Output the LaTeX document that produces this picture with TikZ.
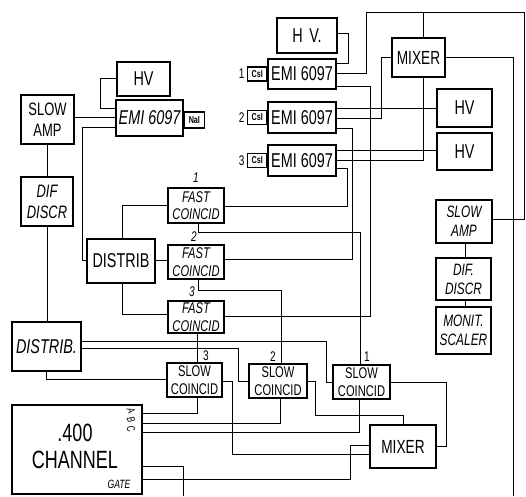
\documentclass[tikz,border=0pt]{standalone}
\usepackage{fontspec}
\setmainfont{Liberation Sans}[FakeStretch=0.72]
\begin{document}
\begin{tikzpicture}[x=1pt,y=-1pt,
  box/.style={draw, line width=1.6pt, inner sep=0pt, align=center, fill=white},
  sbox/.style={draw, line width=1.1pt, inner sep=0pt, align=center, fill=white,
     font=\bfseries\fontsize{10}{10}\selectfont},
  wire/.style={line width=0.9pt, line join=miter},
  lab/.style={inner sep=0pt, font=\itshape\fontsize{14}{14}\selectfont},
  num/.style={inner sep=0pt, font=\fontsize{14}{14}\selectfont},
  big/.style={font=\fontsize{20}{20}\selectfont},
  two/.style={font=\fontsize{18}{21}\selectfont},
  coin/.style={font=\itshape\fontsize{15.5}{17.5}\selectfont},
  scoin/.style={font=\fontsize{15.5}{17.5}\selectfont},
  rit/.style={font=\itshape\fontsize{16.5}{19}\selectfont}]
\useasboundingbox (0,0) rectangle (526,496);
% ---- left group
\node[box, big, minimum width=53pt, minimum height=34pt] (hvL) at (143.5,79) {HV};
\node[box, big, minimum width=67pt, minimum height=36pt] (emiL) at (149.5,118) {\itshape EMI 6097};
\node[sbox, minimum width=20pt, minimum height=16pt, anchor=west] (nai) at (emiL.east |- 0,120) {NaI};
\node[box, two, minimum width=53pt, minimum height=49pt] (sampL) at (47.5,119.5) {SLOW\\AMP};
\node[box, two, minimum width=52pt, minimum height=49pt] (ddL) at (47,201.5) {\itshape DIF\\\itshape DISCR};
\node[box, big, minimum width=68pt, minimum height=44pt] (distM) at (121,261) {DISTRIB};
\node[box, big, minimum width=69pt, minimum height=49pt] (distL) at (46.5,346.5) {\itshape DISTRIB.};
% ---- fast coincidences
\node[box, coin, minimum width=56pt, minimum height=35pt] (fc1) at (196,205.5) {FAST\\COINCID};
\node[box, coin, minimum width=56pt, minimum height=34pt] (fc2) at (196,262) {FAST\\COINCID};
\node[box, coin, minimum width=56pt, minimum height=32pt] (fc3) at (196,317) {FAST\\COINCID};
\node[lab] (l1) at (196,178) {1};
\node[lab] (l2) at (194,237) {2};
\node[lab] (l3) at (192,292) {3};
% ---- slow coincidences
\node[box, scoin, minimum width=55pt, minimum height=34pt] (sc3) at (194.5,380) {SLOW\\COINCID};
\node[box, scoin, minimum width=58pt, minimum height=34pt] (sc2) at (278,381) {SLOW\\COINCID};
\node[box, scoin, minimum width=57pt, minimum height=34pt] (sc1) at (361.5,382) {SLOW\\COINCID};
\node[num] (m3) at (206,356) {3};
\node[num] (m2) at (273,357) {2};
\node[num] (m1) at (367,357) {1};
% ---- 400 channel + mixer
\node[box, minimum width=130pt, minimum height=89pt] (ch) at (77,449.5) {};
\node[inner sep=0pt, align=center, font=\fontsize{25}{27}\selectfont] (chT) at (75,446) {.400\\CHANNEL};
\node[inner sep=0pt, font=\itshape\fontsize{12}{12}\selectfont] (gate) at (119,484) {GATE};
\node[inner sep=0pt, rotate=-70, font=\itshape\fontsize{11}{11}\selectfont] (la) at (131,411) {A};
\node[inner sep=0pt, rotate=-70, font=\itshape\fontsize{11}{11}\selectfont] (lb) at (131,420) {B};
\node[inner sep=0pt, rotate=-70, font=\itshape\fontsize{11}{11}\selectfont] (lc) at (131,429) {C};
\node[box, font=\fontsize{19}{19}\selectfont, minimum width=66pt, minimum height=43pt] (mixB) at (403,446.5) {MIXER};
% ---- top group
\node[box, big, minimum width=60pt, minimum height=35pt] (hvT) at (307,35.5) {H\,\,V.};
\node[box, big, minimum width=68pt, minimum height=30pt] (emi1) at (302,74) {EMI 6097};
\node[box, big, minimum width=68pt, minimum height=31pt] (emi2) at (302,117.5) {EMI 6097};
\node[box, big, minimum width=68pt, minimum height=31pt] (emi3) at (302,160.5) {EMI 6097};
\node[sbox, minimum width=19pt, minimum height=14pt, anchor=east] (cs1) at (emi1.west) {CsI};
\node[sbox, minimum width=19pt, minimum height=14pt, anchor=east] (cs2) at (emi2.west) {CsI};
\node[sbox, minimum width=19pt, minimum height=14pt, anchor=east] (cs3) at (emi3.west) {CsI};
\node[num, anchor=east] (n1) at (cs1.west) {1\,};
\node[num, anchor=east] (n2) at (cs2.west) {2\,};
\node[num, anchor=east] (n3) at (cs3.west) {3\,};
\node[box, font=\fontsize{19}{19}\selectfont, minimum width=53pt, minimum height=39pt] (mixT) at (418.5,57.5) {MIXER};
\node[box, big, minimum width=55pt, minimum height=38pt] (hv2) at (464.5,108) {HV};
\node[box, big, minimum width=55pt, minimum height=37pt] (hv3) at (464.5,151.5) {HV};
\node[box, rit, minimum width=56pt, minimum height=43pt] (sampR) at (464,221.5) {SLOW\\AMP};
\node[box, rit, minimum width=55pt, minimum height=42pt] (ddR) at (463.5,279) {DIF.\\DISCR};
\node[box, rit, minimum width=55pt, minimum height=47pt] (mon) at (463.5,330.5) {MONIT.\\SCALER};
\coordinate (bot1) at (183,496);
\coordinate (bot2) at (513,496);
% ---- wires
\begin{scope}[wire]
\draw (sampL.east |- 0,117) -- (emiL.west |- 0,117);
\draw (hvL.west |- 0,78) -- (100,78) -- (100,108) -- (emiL.west |- 0,108);
\draw (emiL.west |- 0,127) -- (82,127) -- (82,260) -- (distM.west |- 0,260);
\draw (sampL.south -| 47,0) -- (ddL.north -| 47,0);
\draw (ddL.south -| 47,0) -- (distL.north -| 47,0);
\draw (distM.north -| 122,0) -- (122,205) -- (fc1.west |- 0,205);
\draw (distM.east |- 0,260) -- (fc2.west |- 0,260);
\draw (distM.south -| 122,0) -- (122,314) -- (fc3.west |- 0,314);
\draw (emi3.east |- 0,168) -- (347,168) -- (347,206) -- (fc1.east |- 0,206);
\draw (emi2.east |- 0,128) -- (352,128) -- (352,259) -- (fc2.east |- 0,259);
\draw (emi1.east |- 0,86) -- (370,86) -- (370,316) -- (fc3.east |- 0,316);
\draw (fc1.south -| 198,0) -- (198,232) -- (360,232) -- (sc1.north -| 360,0);
\draw (fc2.south -| 198,0) -- (198,290) -- (281,290) -- (sc2.north -| 281,0);
\draw (fc3.south -| 197,0) -- (sc3.north -| 197,0);
\draw (distL.east |- 0,341) -- (326,341) -- (326,382) -- (sc1.west |- 0,382);
\draw (distL.east |- 0,348) -- (238,348) -- (238,381) -- (sc2.west |- 0,381);
\draw (distL.south -| 46,0) -- (46,379) -- (sc3.west |- 0,379);
\draw (sc3.south -| 197,0) -- (197,413) -- (ch.east |- 0,413);
\draw (sc2.south -| 280,0) -- (280,423) -- (ch.east |- 0,423);
\draw (sc1.south -| 359,0) -- (359,432) -- (ch.east |- 0,432);
\draw (sc1.east |- 0,382) -- (446,382) -- (446,446) -- (mixB.east |- 0,446);
\draw (sc2.east |- 0,381) -- (315,381) -- (315,415) -- (403,415) -- (mixB.north -| 403,0);
\draw (sc3.east |- 0,381) -- (232,381) -- (232,454) -- (mixB.west |- 0,454);
\draw (mixB.west |- 0,445) -- (350,445) -- (350,479) -- (ch.east |- 0,479);
\draw (ch.east |- 0,466) -- (183,466) -- (bot1);
\draw (hvT.east |- 0,33) -- (348,33) -- (348,63) -- (emi1.east |- 0,63);
\draw (emi1.east |- 0,73) -- (366,73) -- (366,12) -- (524.5,12) -- (524.5,219) -- (sampR.east |- 0,219);
\draw (mixT.north -| 423,0) -- (423,12);
\draw (mixT.east |- 0,57) -- (513,57) -- (bot2);
\draw (emi2.east |- 0,108) -- (hv2.west |- 0,108);
\draw (emi2.east |- 0,118) -- (381,118) -- (381,57) -- (mixT.west |- 0,57);
\draw (emi3.east |- 0,150) -- (hv3.west |- 0,150);
\draw (emi3.east |- 0,160) -- (423,160) -- (mixT.south -| 423,0);
\draw (sampR.south -| 465,0) -- (ddR.north -| 465,0);
\draw (ddR.south -| 465,0) -- (mon.north -| 465,0);
\end{scope}
\end{tikzpicture}
\end{document}
